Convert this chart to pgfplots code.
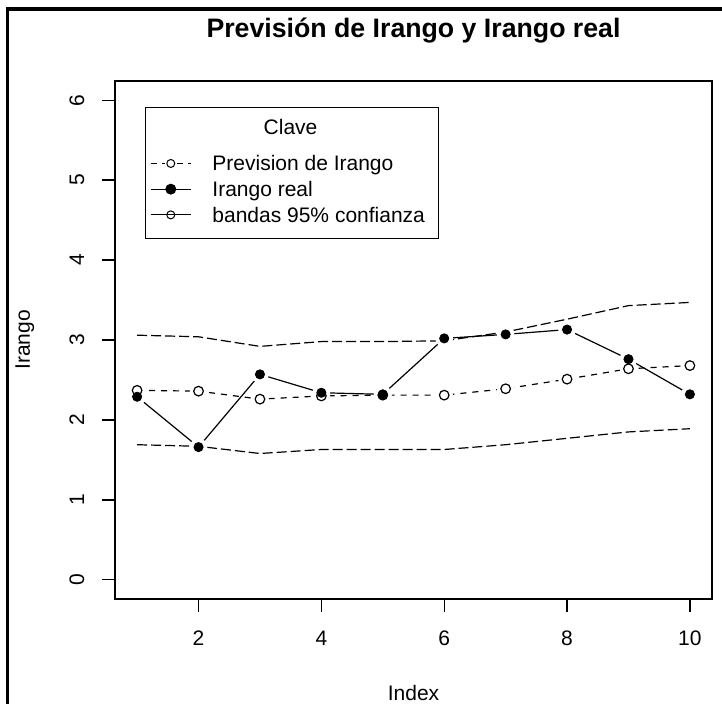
\documentclass[border=0pt]{standalone}
\usepackage{pgfplots}
\pgfplotsset{compat=1.18}
\usepackage{pgfplotstable}
\usepackage{fontspec}
\setmainfont{Liberation Sans}
\setsansfont{Liberation Sans}
\pgfplotstableread{
x forecast real upper lower
1 2.37 2.29 3.06 1.69
2 2.36 1.66 3.04 1.67
3 2.26 2.57 2.92 1.58
4 2.30 2.34 2.98 1.63
5 2.31 2.32 2.98 1.63
6 2.31 3.02 2.99 1.63
7 2.39 3.07 3.10 1.69
8 2.51 3.13 3.26 1.77
9 2.64 2.76 3.43 1.85
10 2.68 2.32 3.47 1.89
}\datatable
\begin{document}
\begin{tikzpicture}
\useasboundingbox (0pt,0pt) rectangle (361pt,352pt);
\draw[line width=1.65pt] (3.75pt,-5pt) -- (3.75pt,347.5pt) -- (370pt,347.5pt);
\begin{axis}[
  at={(57.5pt,52.5pt)}, anchor=south west,
  scale only axis, width=298.5pt, height=259pt,
  xmin=0.64, xmax=10.36, ymin=-0.24, ymax=6.24,
  xtick={2,4,6,8,10}, ytick={0,1,2,3,4,5,6},
  tick pos=left, tick align=outside, major tick length=6.3pt,
  axis line style={line width=0.65pt},
  every tick/.style={line width=0.65pt, black},
  font=\fontsize{10.5}{12.6}\selectfont,
  ticklabel style={font=\fontsize{10.5}{12.6}\selectfont},
  /pgf/number format/assume math mode=true,
  xticklabel style={anchor=base, inner sep=0pt, yshift=-17.2pt},
  yticklabel style={xshift=-9.2pt, rotate=90, anchor=base, inner sep=0pt},
  xlabel={Index},
  xlabel style={at={(axis description cs:0.5,-0.195)}, anchor=base, inner sep=0pt},
  ylabel={Irango},
  ylabel style={at={(axis description cs:-0.1424,0.5)}, anchor=base, inner sep=0pt},
  title={Previsión de Irango y Irango real},
  title style={at={(axis description cs:0.5,1.0849)}, anchor=base, inner sep=0pt, yshift=-6pt, font=\bfseries\fontsize{13.35}{16}\selectfont},
  legend style={at={(axis cs:1.121,5.9125)}, anchor=north west, draw=black, line width=0.65pt, fill=white,
    inner xsep=2.5pt, inner ysep=5.5pt, row sep=0pt, column sep=0pt,
    nodes={inner sep=0pt, text depth=, text height=}, font=\fontsize{10.5}{12.6}\selectfont},
  legend cell align=left,
]
% lines
\addplot[forget plot, black, line width=0.6pt, dash pattern=on 3pt off 3pt] table[x=x,y=forecast]{\datatable};
\addplot[forget plot, black, line width=0.6pt] table[x=x,y=real]{\datatable};
% gaps (type b)
\addplot[forget plot, only marks, mark=*, mark size=4.2pt, mark options={draw=white, fill=white}] table[x=x,y=forecast]{\datatable};
\addplot[forget plot, only marks, mark=*, mark size=4.2pt, mark options={draw=white, fill=white}] table[x=x,y=real]{\datatable};
% marks
\addplot[forget plot, only marks, mark=o, mark size=2.4pt, mark options={black, line width=0.6pt, solid}] table[x=x,y=forecast]{\datatable};
\addplot[forget plot, only marks, mark=*, mark size=2.3pt, mark options={black, fill=black, solid}] table[x=x,y=real]{\datatable};
% bands
\addplot[forget plot, black, line width=0.6pt, dash pattern=on 5pt off 2pt] table[x=x,y=upper]{\datatable};
\addplot[forget plot, black, line width=0.6pt, dash pattern=on 5pt off 2pt] table[x=x,y=lower]{\datatable};
\coordinate (clv) at (axis cs:3.498,5.569);
% legend
\addlegendimage{empty legend}
\addlegendentry{\rule{0pt}{15.9pt}}
\addlegendimage{legend image code/.code={
  \draw[black, line width=0.6pt, dash pattern=on 3pt off 2.5pt] (0pt,0pt) -- (7pt,0pt);
  \draw[black, line width=0.6pt, dash pattern=on 3pt off 2.5pt] (13pt,0pt) -- (20pt,0pt);
  \draw[black, line width=0.5pt] (10pt,0pt) circle (2pt);
  \path (30.5pt,0pt);}}
\addlegendentry{\rule[-2.67pt]{0pt}{12.85pt}\makebox[110.5pt][l]{Prevision de Irango}}
\addlegendimage{legend image code/.code={
  \draw[black, line width=0.6pt] (0pt,0pt) -- (20pt,0pt);
  \fill[black] (10pt,0pt) circle (2.4pt);
  \path (30.5pt,0pt);}}
\addlegendentry{\rule[-2.67pt]{0pt}{12.85pt}\makebox[110.5pt][l]{Irango real}}
\addlegendimage{legend image code/.code={
  \draw[black, line width=0.6pt] (0pt,0pt) -- (20pt,0pt);
  \draw[black, line width=0.5pt, fill=white] (10pt,0pt) circle (2pt);
  \draw[black, line width=0.6pt] (8pt,0pt) -- (12pt,0pt);
  \path (30.5pt,0pt);}}
\addlegendentry{\rule[-2.67pt]{0pt}{12.85pt}\makebox[110.5pt][l]{bandas 95\% confianza}}
\end{axis}
\node[anchor=base, inner sep=0pt, font=\fontsize{10.5}{12.6}\selectfont] at (clv) {Clave};
\end{tikzpicture}
\end{document}
